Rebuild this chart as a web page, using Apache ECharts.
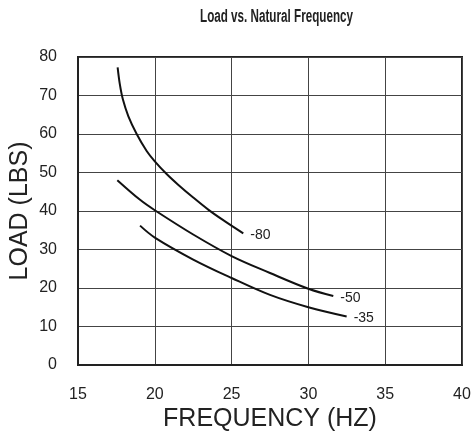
<!DOCTYPE html>
<html>
<head>
<meta charset="utf-8">
<script src="https://cdn.jsdelivr.net/npm/echarts@6/dist/echarts.min.js"></script>
<style>html,body{margin:0;padding:0;background:#fff}#c{width:475px;height:436px}</style>
</head>
<body>
<div id="c"></div>
<script>
const titleText = 'Load vs. Natural Frequency';
const xName = 'FREQUENCY (HZ)';
const yName = 'LOAD (LBS)';
const seriesNames = ['-80', '-50', '-35'];
const freq80 = [17.58, 17.72, 17.92, 18.28, 18.82, 19.47, 20, 20.77, 21.5, 22.5, 23.5, 24.5, 25.76];
const load80 = [77.3, 73, 69, 64.6, 60, 55.6, 52.9, 49.6, 46.9, 43.5, 40.3, 37.5, 34.2];
const freq50 = [17.56, 19.04, 20, 22.5, 25, 27.5, 30, 31.62];
const load50 = [48, 42.9, 40.2, 33.9, 28.3, 23.9, 19.8, 17.9];
const freq35 = [19.04, 20, 22.5, 25, 27.5, 30, 32.49];
const load35 = [36.2, 33.1, 27.4, 22.6, 18.2, 15.0, 12.6];

const pairs = (xs, ys) => xs.map((x, i) => [x, ys[i]]);
const curves = [pairs(freq80, load80), pairs(freq50, load50), pairs(freq35, load35)];

// condensed title: measure and squeeze horizontally to mimic a condensed face
const titleFont = 'bold 18px "Liberation Sans", Arial, sans-serif';
const mc = document.createElement('canvas').getContext('2d');
mc.font = titleFont;
const titleScale = 153 / mc.measureText(titleText).width;

const chart = echarts.init(document.getElementById('c'), null, {renderer: 'canvas'});
chart.setOption({
  animation: false,
  backgroundColor: '#fff',
  graphic: [{
    type: 'text', x: 276.5, y: 17, scaleX: titleScale, scaleY: 1,
    style: {text: titleText, font: titleFont, fill: '#222', align: 'center', verticalAlign: 'middle'}
  }],
  grid: {left: 78, right: 13, top: 57, bottom: 71, outerBoundsMode: 'none', containLabel: false,
    show: true, borderColor: '#222', borderWidth: 2, backgroundColor: 'transparent'},
  xAxis: {
    type: 'value', min: 15, max: 40, interval: 5,
    name: xName, nameLocation: 'middle', nameGap: 42, nameMoveOverlap: false,
    nameTextStyle: {fontFamily: 'Liberation Sans, Arial, sans-serif', fontSize: 25, color: '#222'},
    axisLine: {show: true, lineStyle: {color: '#222', width: 2}},
    axisTick: {show: false},
    axisLabel: {margin: 22, fontFamily: 'Liberation Sans, Arial, sans-serif', fontSize: 16, color: '#222'},
    splitLine: {show: true, lineStyle: {color: '#444', width: 1}}
  },
  yAxis: {
    type: 'value', min: 0, max: 80, interval: 10,
    name: yName, nameLocation: 'middle', nameGap: 45, nameMoveOverlap: false,
    nameTextStyle: {fontFamily: 'Liberation Sans, Arial, sans-serif', fontSize: 25, color: '#222'},
    axisLine: {show: true, lineStyle: {color: '#222', width: 2}},
    axisTick: {show: false},
    axisLabel: {margin: 21, fontFamily: 'Liberation Sans, Arial, sans-serif', fontSize: 16, color: '#222'},
    splitLine: {show: true, lineStyle: {color: '#444', width: 1}}
  },
  series: curves.map((d, i) => ({
    type: 'line', name: seriesNames[i], data: d, smooth: 0.35,
    showSymbol: false, symbol: 'none',
    lineStyle: {color: '#111', width: 2},
    endLabel: {show: true, formatter: seriesNames[i], distance: 7, offset: [0, 2],
      fontFamily: 'Liberation Sans, Arial, sans-serif', fontSize: 14, color: '#222'}
  }))
});
</script>
</body>
</html>
